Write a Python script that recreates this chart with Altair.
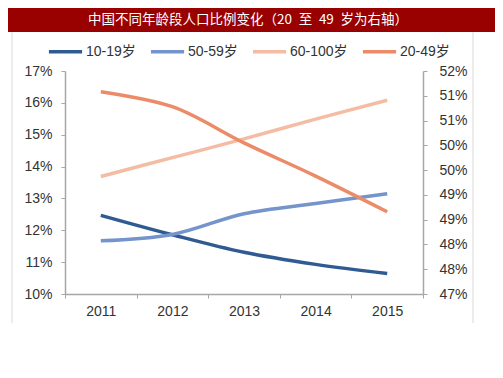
import altair as alt
import pandas as pd

years = ["2011", "2012", "2013", "2014", "2015"]
s10_19 = [12.47, 11.86, 11.31, 10.93, 10.64]
s50_59 = [11.67, 11.87, 12.52, 12.84, 13.15]
s60_100 = [13.69, 14.28, 14.87, 15.49, 16.08]
s20_49 = [51.08, 50.78, 50.05, 49.38, 48.66]

series_order = ["10-19岁", "50-59岁", "60-100岁", "20-49岁"]
series_colors = ["#2F5A92", "#7494CB", "#F5BCA4", "#EC8B68"]
left_ticks = [10, 11, 12, 13, 14, 15, 16, 17]
right_ticks = [47, 47.5, 48, 48.5, 49, 49.5, 50, 50.5, 51, 51.5]
title_text = "中国不同年龄段人口比例变化（20\u2002至\u200249\u2002岁为右轴）"

rows = []
for name, vals in [("10-19岁", s10_19), ("50-59岁", s50_59), ("60-100岁", s60_100)]:
    for yr, v in zip(years, vals):
        rows.append({"year": yr, "value": v, "series": name})
left_df = pd.DataFrame(rows)
right_df = pd.DataFrame({"year": years, "value": s20_49, "series": ["20-49岁"] * len(years)})
one = pd.DataFrame({"t": [title_text]})

FONT = "Liberation Sans, Noto Sans CJK SC, sans-serif"
AXC = "#A6A6A6"
LBC = "#333333"

x_enc = alt.X(
    "year:O",
    bandPosition=0.5,
    scale=alt.Scale(type="band", paddingInner=0, paddingOuter=0),
    axis=alt.Axis(title=None, labelAngle=0, tickBand="extent", domainColor=AXC,
                  tickColor=AXC, tickSize=4, labelFontSize=14, labelPadding=6,
                  labelColor=LBC, labelFont=FONT, grid=False, domainWidth=1.5),
)

color_enc = alt.Color(
    "series:N",
    sort=series_order,
    scale=alt.Scale(domain=series_order, range=series_colors),
    legend=alt.Legend(orient="none", legendX=-18, legendY=-38, direction="horizontal",
                      title=None, symbolType="stroke", symbolSize=1100,
                      symbolStrokeWidth=3.5, labelFont=FONT, labelFontSize=14,
                      labelColor=LBC, columnPadding=7, labelOffset=2),
)

left = alt.Chart(left_df).mark_line(strokeWidth=3.5, interpolate="catmull-rom").encode(
    x=x_enc,
    y=alt.Y("value:Q", scale=alt.Scale(domain=[10, 17], nice=False, zero=False),
            axis=alt.Axis(title=None, orient="left", values=left_ticks,
                          labelExpr="datum.value + '%'", grid=False, domainColor=AXC,
                          tickColor=AXC, tickSize=4, labelFontSize=14, labelPadding=9,
                          labelColor=LBC, labelFont=FONT, domainWidth=1.5)),
    color=color_enc,
)

right = alt.Chart(right_df).mark_line(strokeWidth=3.5, interpolate="catmull-rom").encode(
    x=x_enc,
    y=alt.Y("value:Q", scale=alt.Scale(domain=[47, 51.5], nice=False, zero=False),
            axis=alt.Axis(title=None, orient="right", values=right_ticks,
                          labelExpr="round(datum.value) + '%'", grid=False, domainColor=AXC,
                          tickColor=AXC, tickSize=4, labelFontSize=14, labelPadding=12,
                          labelColor=LBC, labelFont=FONT, domainWidth=1.5)),
    color=color_enc,
)

band = alt.Chart(one).mark_rect(color="#990000").encode(
    x=alt.value(-57), x2=alt.value(434), y=alt.value(-63), y2=alt.value(-39)
)
band_text = alt.Chart(one).mark_text(color="white", fontSize=13.5, font="Noto Sans CJK SC",
                                     align="center", baseline="middle").encode(
    x=alt.value(183), y=alt.value(-51), text="t:N"
)
frame_l = alt.Chart(one).mark_rule(color="#D9D9D9", strokeWidth=1).encode(
    x=alt.value(-53), y=alt.value(-39), y2=alt.value(252)
)
frame_r = alt.Chart(one).mark_rule(color="#D9D9D9", strokeWidth=1).encode(
    x=alt.value(408), y=alt.value(-39), y2=alt.value(252)
)

chart = alt.layer(band, band_text, frame_l, frame_r, left, right).resolve_scale(
    y="independent"
).properties(
    width=358, height=223,
    autosize=alt.AutoSizeParams(type="none"),
    padding={"left": 57, "top": 63, "right": 72, "bottom": 76},
).configure_view(stroke=None)

chart.save("out.html", embed_options={"renderer": "svg", "actions": False})
